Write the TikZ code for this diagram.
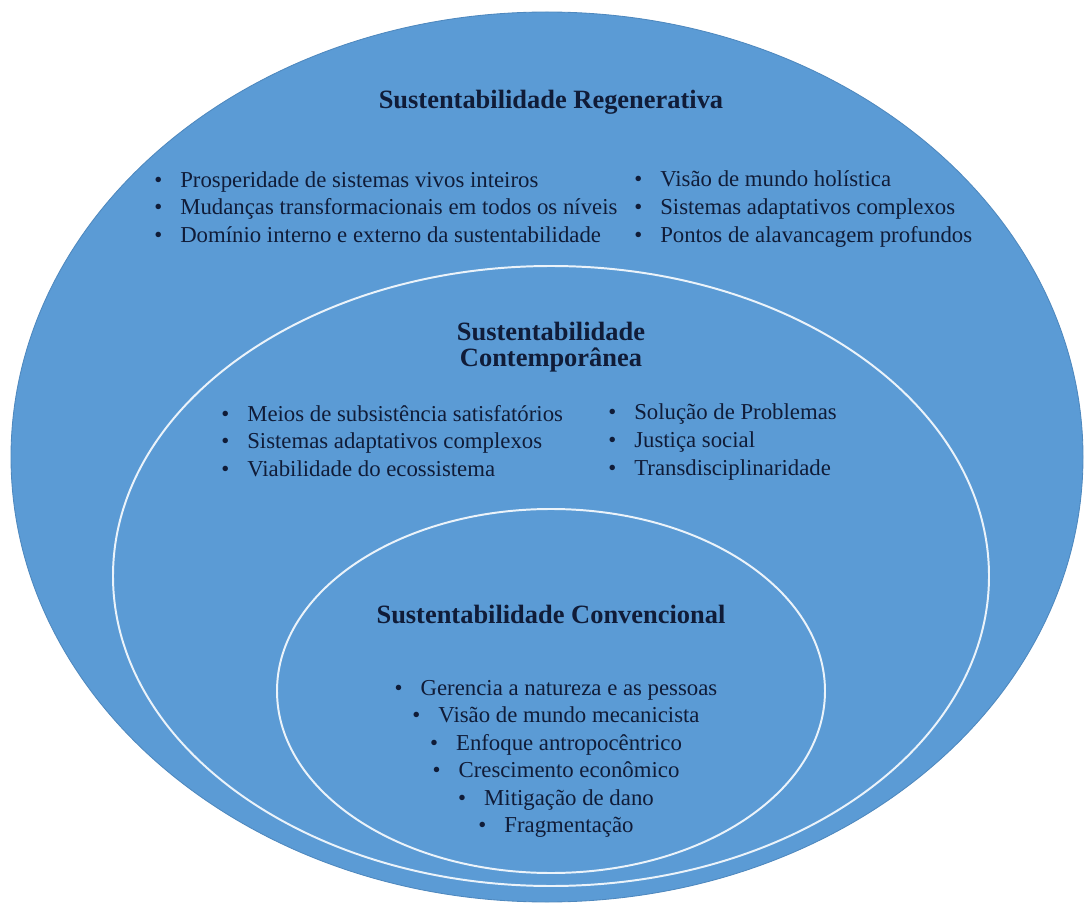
\documentclass[tikz,border=0pt]{standalone}
\usepackage{fontspec}
\setmainfont{Liberation Serif}
\definecolor{sustblue}{RGB}{91,155,213}
\definecolor{sustedge}{RGB}{78,136,190}
\definecolor{inktext}{RGB}{16,28,56}
% bullet followed by a fixed tab
\newcommand{\itm}[1]{\makebox[0.65cm][l]{\textbullet}#1}
\tikzset{
    ring/.style={draw=white!88!sustblue, line width=1.4pt},
    head/.style={text=inktext, inner sep=0pt, align=center,
                 font=\fontsize{18.8}{18.6}\selectfont\bfseries},
    items/.style={text=inktext, inner sep=0pt,
                  font=\fontsize{16.2}{19.6}\selectfont},
  }

\begin{document}
\begin{tikzpicture}[x=0.025cm, y=-0.025cm]
				  \useasboundingbox (0,0) rectangle (1086,912);
				  %three nested levels
				  \filldraw[fill=sustblue, draw=sustedge, line width=0.6pt] (547,457) ellipse [x radius=536, y radius=445];
				  \draw[ring] (551,576) ellipse [x radius=438, y radius=310];
				  \draw[ring] (551,691) ellipse [x radius=274, y radius=182];

				  %regenerativa
				  \node[head] (regTitle) at (551,102) {Sustentabilidade Regenerativa};
				  \node[items, anchor=west, align=left] (regLeft) at (154,207) {%
				      \itm{Prosperidade de sistemas vivos inteiros}\\
				      \itm{Mudanças transformacionais em todos os níveis}\\
				      \itm{Domínio interno e externo da sustentabilidade}};
				  \node[items, anchor=west, align=left] (regRight) at (634,209) {%
				      \itm{Visão de mundo holística}\\
				      \itm{Sistemas adaptativos complexos}\\
				      \itm{Pontos de alavancagem profundos}};

				  %contemporanea
				  \node[head] (conTitle) at (551,347) {Sustentabilidade\\Contemporânea};
				  \node[items, anchor=west, align=left] (conLeft) at (221,441) {%
				      \itm{Meios de subsistência satisfatórios}\\
				      \itm{Sistemas adaptativos complexos}\\
				      \itm{Viabilidade do ecossistema}};
				  \node[items, anchor=west, align=left] (conRight) at (608,442) {%
				      \itm{Solução de Problemas}\\
				      \itm{Justiça social}\\
				      \itm{Transdisciplinaridade}};

				  %convencional
				  \node[head] (cvTitle) at (551,614) {Sustentabilidade Convencional};
				  \node[items, align=center] (cvList) at (556,759) {%
				      \itm{Gerencia a natureza e as pessoas}\\
				      \itm{Visão de mundo mecanicista}\\
				      \itm{Enfoque antropocêntrico}\\
				      \itm{Crescimento econômico}\\
				      \itm{Mitigação de dano}\\
				      \itm{Fragmentação}};
				  \end{tikzpicture}
\end{document}
